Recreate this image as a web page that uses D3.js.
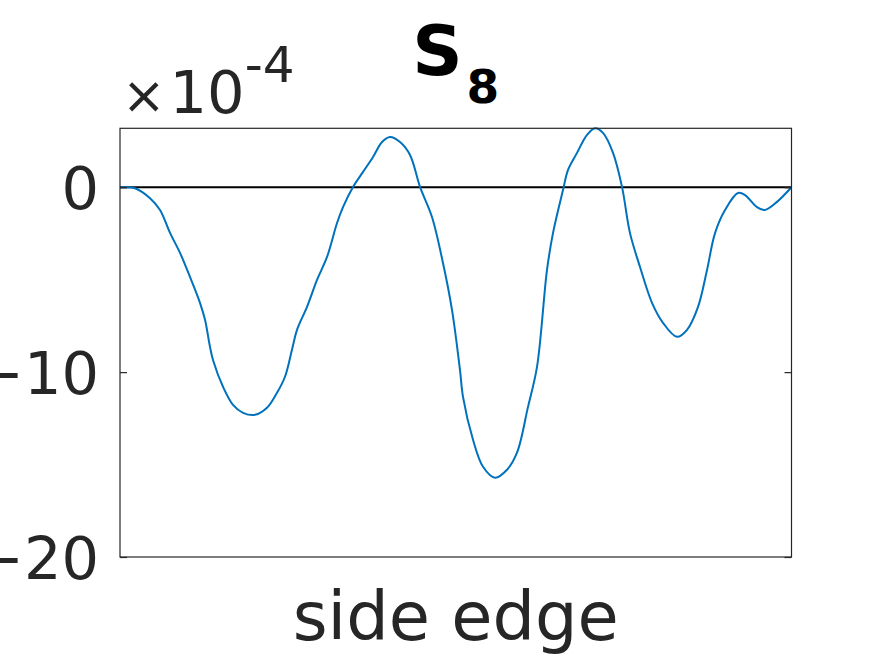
<!DOCTYPE html>
<html><head><meta charset="utf-8">
<script src="https://cdn.jsdelivr.net/npm/d3@7"></script>
<style>body{margin:0;background:#fff}svg{display:block}text{font-family:"DejaVu Sans",sans-serif}</style>
</head><body>
<svg id="c" width="875" height="656"></svg>
<script>
// position along side edge (0-100) and S8 value (x1e-4)
const xs = [0,0.74,2.23,4.47,5.96,7.45,8.94,10.42,11.91,12.66,13.40,13.85,15.34,16.83,18.32,20.10,21.89,23.38,24.57,25.61,26.36,27.85,29.34,30.83,32.32,33.21,34.70,36.19,37.68,39.02,40.21,41.70,43.19,44.68,46.46,48.10,49.44,50.63,51.08,52.57,54.06,55.85,57.63,59.12,60.76,62.10,63.59,64.48,65.97,66.72,68.06,69.55,70.74,71.93,73.42,74.76,75.95,77.44,79.23,80.86,82.95,84.44,86.08,87.42,88.61,90.10,92.03,93.08,94.86,96.05,97.84,100];
const ys = [0,0,-0.05,-0.59,-1.23,-2.47,-3.55,-4.85,-6.25,-7.17,-8.63,-9.34,-10.79,-11.77,-12.20,-12.31,-11.93,-11.12,-10.25,-8.79,-7.71,-6.47,-5.01,-3.77,-1.93,-1.07,0.02,0.83,1.64,2.45,2.72,2.45,1.75,0.02,-1.61,-4.10,-6.63,-9.88,-11.34,-13.66,-15.12,-15.71,-15.28,-14.36,-11.88,-9.72,-4.47,-2.48,-0.15,0.94,1.86,2.83,3.19,2.94,1.86,0.02,-2.48,-4.31,-6.25,-7.33,-8.09,-7.71,-6.47,-4.47,-2.48,-1.23,-0.31,-0.42,-1.07,-1.23,-0.79,0];
const yTicks = [-20,-10,0];
const yDomain = [-20, 3.19];

const svg = d3.select("#c");
const L=120, R=791.5, T=128.3, B=557;
const x = d3.scaleLinear().domain([0,100]).range([L,R]);
const y = d3.scaleLinear().domain(yDomain).range([B,T]);
const axisColor = "#262626";

// zero line
svg.append("line").attr("x1",x(0)).attr("x2",x(100)).attr("y1",y(0)).attr("y2",y(0))
  .attr("stroke","#000").attr("stroke-width",2);

// curve
const data = xs.map((v,i)=>[v,ys[i]]);
svg.append("path").datum(data)
  .attr("d", d3.line().x(d=>x(d[0])).y(d=>y(d[1])).curve(d3.curveCatmullRom.alpha(0.5)))
  .attr("fill","none").attr("stroke","#0072BD").attr("stroke-width",2);

// box
svg.append("rect").attr("x",L).attr("y",T).attr("width",R-L).attr("height",B-T)
  .attr("fill","none").attr("stroke",axisColor).attr("stroke-width",1.2);

// left axis
const la = svg.append("g").attr("transform",`translate(${L},0)`)
  .call(d3.axisLeft(y).tickValues(yTicks).tickSize(-7).tickPadding(21).tickFormat(d3.format("d")));
la.select(".domain").remove();
la.selectAll("line").attr("stroke",axisColor).attr("stroke-width",1.2);
la.selectAll("text").attr("fill",axisColor).style("font-size","59px").style("font-family","DejaVu Sans").attr("dy","0.36em");
// right ticks
const ra = svg.append("g").attr("transform",`translate(${R},0)`)
  .call(d3.axisRight(y).tickValues(yTicks).tickSize(-7).tickFormat(""));
ra.select(".domain").remove();
ra.selectAll("line").attr("stroke",axisColor).attr("stroke-width",1.2);

// exponent label
const ex = svg.append("text").attr("x",122).attr("y",113).attr("fill",axisColor).style("font-size","59px");
ex.append("tspan").style("font-size","52px").text("\u00d7");
ex.append("tspan").attr("dx",4).text("10");
ex.append("tspan").attr("dy",-31).style("font-size","50px").text("-4");

// x label
svg.append("text").attr("x",(L+R)/2).attr("y",640).attr("text-anchor","middle")
  .attr("fill",axisColor).style("font-size","67px").text("side edge");

// title
const t = svg.append("text").attr("x",(L+R)/2).attr("y",75).attr("text-anchor","middle")
  .attr("fill","#000").style("font-weight","bold").style("font-size","70px");
t.append("tspan").text("S");
t.append("tspan").attr("dx",4).attr("dy",28).style("font-size","47px").text("8");
</script>
</body></html>
